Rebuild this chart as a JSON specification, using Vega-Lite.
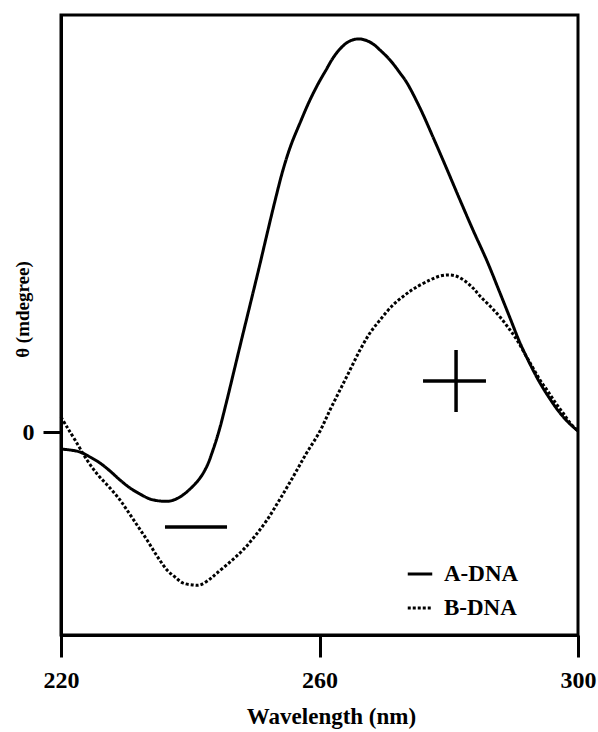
{
  "$schema": "https://vega.github.io/schema/vega-lite/v6.json",
  "width": 517,
  "height": 620,
  "autosize": "none",
  "padding": {"left": 61, "top": 15, "right": 20, "bottom": 97},
  "background": "white",
  "datasets": {
    "curves": [
      {"wavelength": 220.0, "theta": -1.7, "form": "A-DNA"},
      {"wavelength": 221.39, "theta": -1.8, "form": "A-DNA"},
      {"wavelength": 222.94, "theta": -2.0, "form": "A-DNA"},
      {"wavelength": 224.49, "theta": -2.5, "form": "A-DNA"},
      {"wavelength": 226.03, "theta": -3.1, "form": "A-DNA"},
      {"wavelength": 227.58, "theta": -3.9, "form": "A-DNA"},
      {"wavelength": 229.13, "theta": -4.8, "form": "A-DNA"},
      {"wavelength": 230.68, "theta": -5.6, "form": "A-DNA"},
      {"wavelength": 232.22, "theta": -6.2, "form": "A-DNA"},
      {"wavelength": 233.77, "theta": -6.7, "form": "A-DNA"},
      {"wavelength": 235.32, "theta": -6.9, "form": "A-DNA"},
      {"wavelength": 236.87, "theta": -6.9, "form": "A-DNA"},
      {"wavelength": 238.41, "theta": -6.5, "form": "A-DNA"},
      {"wavelength": 239.96, "theta": -5.7, "form": "A-DNA"},
      {"wavelength": 241.51, "theta": -4.6, "form": "A-DNA"},
      {"wavelength": 242.59, "theta": -3.4, "form": "A-DNA"},
      {"wavelength": 243.52, "theta": -1.8, "form": "A-DNA"},
      {"wavelength": 244.45, "theta": 0.1, "form": "A-DNA"},
      {"wavelength": 245.53, "theta": 2.8, "form": "A-DNA"},
      {"wavelength": 246.62, "theta": 5.7, "form": "A-DNA"},
      {"wavelength": 247.85, "theta": 9.0, "form": "A-DNA"},
      {"wavelength": 249.25, "theta": 12.7, "form": "A-DNA"},
      {"wavelength": 250.64, "theta": 16.4, "form": "A-DNA"},
      {"wavelength": 251.88, "theta": 19.8, "form": "A-DNA"},
      {"wavelength": 253.11, "theta": 23.1, "form": "A-DNA"},
      {"wavelength": 254.35, "theta": 26.2, "form": "A-DNA"},
      {"wavelength": 255.59, "theta": 28.7, "form": "A-DNA"},
      {"wavelength": 256.98, "theta": 30.9, "form": "A-DNA"},
      {"wavelength": 258.38, "theta": 33.0, "form": "A-DNA"},
      {"wavelength": 259.77, "theta": 34.8, "form": "A-DNA"},
      {"wavelength": 261.01, "theta": 36.2, "form": "A-DNA"},
      {"wavelength": 262.09, "theta": 37.4, "form": "A-DNA"},
      {"wavelength": 263.17, "theta": 38.3, "form": "A-DNA"},
      {"wavelength": 264.41, "theta": 39.0, "form": "A-DNA"},
      {"wavelength": 265.8, "theta": 39.3, "form": "A-DNA"},
      {"wavelength": 267.04, "theta": 39.2, "form": "A-DNA"},
      {"wavelength": 268.28, "theta": 38.8, "form": "A-DNA"},
      {"wavelength": 269.36, "theta": 38.2, "form": "A-DNA"},
      {"wavelength": 270.91, "theta": 37.2, "form": "A-DNA"},
      {"wavelength": 272.46, "theta": 35.9, "form": "A-DNA"},
      {"wavelength": 273.54, "theta": 34.9, "form": "A-DNA"},
      {"wavelength": 275.55, "theta": 32.4, "form": "A-DNA"},
      {"wavelength": 277.56, "theta": 29.5, "form": "A-DNA"},
      {"wavelength": 279.57, "theta": 26.5, "form": "A-DNA"},
      {"wavelength": 281.74, "theta": 23.2, "form": "A-DNA"},
      {"wavelength": 283.75, "theta": 20.2, "form": "A-DNA"},
      {"wavelength": 285.92, "theta": 17.1, "form": "A-DNA"},
      {"wavelength": 287.93, "theta": 13.9, "form": "A-DNA"},
      {"wavelength": 289.48, "theta": 11.4, "form": "A-DNA"},
      {"wavelength": 291.03, "theta": 8.9, "form": "A-DNA"},
      {"wavelength": 292.57, "theta": 6.8, "form": "A-DNA"},
      {"wavelength": 294.12, "theta": 4.9, "form": "A-DNA"},
      {"wavelength": 295.67, "theta": 3.3, "form": "A-DNA"},
      {"wavelength": 297.21, "theta": 1.9, "form": "A-DNA"},
      {"wavelength": 298.76, "theta": 0.8, "form": "A-DNA"},
      {"wavelength": 300.0, "theta": 0.1, "form": "A-DNA"},
      {"wavelength": 220.0, "theta": 1.5, "form": "B-DNA"},
      {"wavelength": 220.93, "theta": 0.5, "form": "B-DNA"},
      {"wavelength": 222.17, "theta": -0.8, "form": "B-DNA"},
      {"wavelength": 224.02, "theta": -2.8, "form": "B-DNA"},
      {"wavelength": 225.73, "theta": -4.3, "form": "B-DNA"},
      {"wavelength": 227.58, "theta": -5.6, "form": "B-DNA"},
      {"wavelength": 229.13, "theta": -6.8, "form": "B-DNA"},
      {"wavelength": 230.21, "theta": -7.8, "form": "B-DNA"},
      {"wavelength": 231.76, "theta": -9.3, "form": "B-DNA"},
      {"wavelength": 233.31, "theta": -10.8, "form": "B-DNA"},
      {"wavelength": 234.86, "theta": -12.4, "form": "B-DNA"},
      {"wavelength": 236.4, "theta": -13.8, "form": "B-DNA"},
      {"wavelength": 237.64, "theta": -14.5, "form": "B-DNA"},
      {"wavelength": 238.88, "theta": -15.1, "form": "B-DNA"},
      {"wavelength": 240.43, "theta": -15.3, "form": "B-DNA"},
      {"wavelength": 241.51, "theta": -15.3, "form": "B-DNA"},
      {"wavelength": 243.06, "theta": -14.7, "form": "B-DNA"},
      {"wavelength": 244.14, "theta": -14.1, "form": "B-DNA"},
      {"wavelength": 246.15, "theta": -13.0, "form": "B-DNA"},
      {"wavelength": 248.16, "theta": -11.8, "form": "B-DNA"},
      {"wavelength": 250.02, "theta": -10.4, "form": "B-DNA"},
      {"wavelength": 251.88, "theta": -8.8, "form": "B-DNA"},
      {"wavelength": 253.89, "theta": -6.7, "form": "B-DNA"},
      {"wavelength": 255.9, "theta": -4.5, "form": "B-DNA"},
      {"wavelength": 257.91, "theta": -2.2, "form": "B-DNA"},
      {"wavelength": 260.0, "theta": 0.0, "form": "B-DNA"},
      {"wavelength": 261.62, "theta": 2.2, "form": "B-DNA"},
      {"wavelength": 263.17, "theta": 4.2, "form": "B-DNA"},
      {"wavelength": 264.72, "theta": 6.2, "form": "B-DNA"},
      {"wavelength": 266.27, "theta": 8.2, "form": "B-DNA"},
      {"wavelength": 267.81, "theta": 9.9, "form": "B-DNA"},
      {"wavelength": 269.36, "theta": 11.2, "form": "B-DNA"},
      {"wavelength": 271.37, "theta": 12.7, "form": "B-DNA"},
      {"wavelength": 273.23, "theta": 13.7, "form": "B-DNA"},
      {"wavelength": 274.78, "theta": 14.4, "form": "B-DNA"},
      {"wavelength": 277.1, "theta": 15.2, "form": "B-DNA"},
      {"wavelength": 278.65, "theta": 15.6, "form": "B-DNA"},
      {"wavelength": 279.88, "theta": 15.7, "form": "B-DNA"},
      {"wavelength": 281.12, "theta": 15.6, "form": "B-DNA"},
      {"wavelength": 282.51, "theta": 15.1, "form": "B-DNA"},
      {"wavelength": 283.75, "theta": 14.4, "form": "B-DNA"},
      {"wavelength": 284.83, "theta": 13.6, "form": "B-DNA"},
      {"wavelength": 286.38, "theta": 12.6, "form": "B-DNA"},
      {"wavelength": 287.93, "theta": 11.5, "form": "B-DNA"},
      {"wavelength": 289.48, "theta": 10.2, "form": "B-DNA"},
      {"wavelength": 290.56, "theta": 9.2, "form": "B-DNA"},
      {"wavelength": 291.8, "theta": 7.8, "form": "B-DNA"},
      {"wavelength": 293.04, "theta": 6.4, "form": "B-DNA"},
      {"wavelength": 294.12, "theta": 5.2, "form": "B-DNA"},
      {"wavelength": 295.2, "theta": 4.2, "form": "B-DNA"},
      {"wavelength": 296.44, "theta": 3.0, "form": "B-DNA"},
      {"wavelength": 297.68, "theta": 1.9, "form": "B-DNA"},
      {"wavelength": 298.92, "theta": 0.8, "form": "B-DNA"},
      {"wavelength": 300.0, "theta": 0.1, "form": "B-DNA"}
    ],
    "signs": [
      {"sign": "plus-h", "x1": 276.02, "x2": 285.76, "y1": 5.1, "y2": 5.1},
      {"sign": "plus-v", "x1": 281.13, "x2": 281.13, "y1": 8.2, "y2": 2.0},
      {"sign": "minus", "x1": 236.09, "x2": 245.69, "y1": -9.5, "y2": -9.5}
    ]
  },
  "config": {
    "view": {"stroke": "black", "strokeWidth": 3},
    "axis": {
      "grid": false,
      "domainColor": "black",
      "domainWidth": 3,
      "tickColor": "black",
      "tickWidth": 3,
      "labelFont": "Liberation Serif",
      "labelFontWeight": "bold",
      "labelFontSize": 24,
      "labelColor": "black",
      "titleFont": "Liberation Serif",
      "titleFontWeight": "bold",
      "titleColor": "black"
    },
    "axisX": {"tickSize": 22, "labelPadding": 11, "titleFontSize": 23, "titlePadding": 13, "labelFlush": false, "titleX": 270},
    "axisY": {"tickSize": 18, "labelPadding": 9, "titleFontSize": 19, "titleX": -39, "titleY": 294, "titleBaseline": "middle", "titleAlign": "center", "titleAngle": 270}
  },
  "layer": [
    {
      "mark": {"type": "rule", "color": "black", "strokeWidth": 2},
      "encoding": {"y": {"datum": 0, "type": "quantitative"}}
    },
    {
      "mark": {"type": "rule", "color": "black", "strokeWidth": 2},
      "encoding": {"x": {"datum": 260, "type": "quantitative"}}
    },
    {
      "data": {"name": "curves"},
      "mark": {"type": "line", "color": "black", "interpolate": "catmull-rom", "strokeWidth": 3},
      "encoding": {
        "x": {
          "field": "wavelength",
          "type": "quantitative",
          "title": "Wavelength (nm)",
          "scale": {"domain": [220, 300], "nice": false, "zero": false},
          "axis": {"values": [220, 260, 300], "format": "d"}
        },
        "y": {
          "field": "theta",
          "type": "quantitative",
          "title": "θ (mdegree)",
          "scale": {"domain": [-20.3, 41.7], "nice": false, "zero": false},
          "axis": {"values": [0], "format": "d"}
        },
        "strokeDash": {
          "field": "form",
          "type": "nominal",
          "scale": {"domain": ["A-DNA", "B-DNA"], "range": [[1, 0], [3, 2]]},
          "legend": {
            "title": null,
            "orient": "none",
            "legendX": 345,
            "legendY": 545,
            "symbolType": "stroke",
            "symbolSize": 600,
            "symbolStrokeWidth": 3,
            "symbolStrokeColor": "black",
            "labelFont": "Liberation Serif",
            "labelFontWeight": "bold",
            "labelFontSize": 23,
            "labelColor": "black",
            "labelOffset": 10,
            "rowPadding": 8
          }
        }
      }
    },
    {
      "data": {"name": "signs"},
      "mark": {"type": "rule", "color": "black", "strokeWidth": 3.5},
      "encoding": {
        "x": {"field": "x1", "type": "quantitative"},
        "x2": {"field": "x2"},
        "y": {"field": "y1", "type": "quantitative"},
        "y2": {"field": "y2"}
      }
    }
  ]
}
